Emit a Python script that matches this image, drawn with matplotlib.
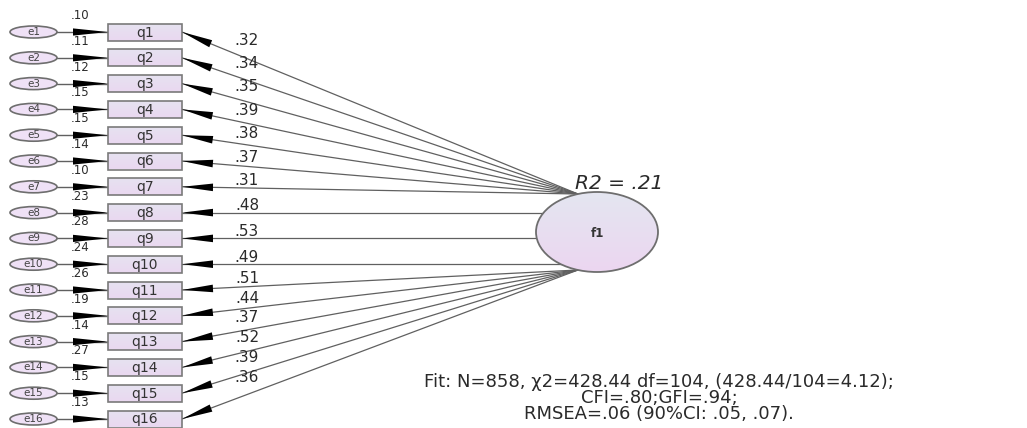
import numpy as np
import matplotlib.pyplot as plt
from matplotlib.patches import Ellipse, Rectangle, Polygon
from matplotlib.colors import LinearSegmentedColormap

plt.rcParams['font.family'] = ['DejaVu Sans']

# data
items = ['q1', 'q2', 'q3', 'q4', 'q5', 'q6', 'q7', 'q8',
         'q9', 'q10', 'q11', 'q12', 'q13', 'q14', 'q15', 'q16']
errors = ['e1', 'e2', 'e3', 'e4', 'e5', 'e6', 'e7', 'e8',
          'e9', 'e10', 'e11', 'e12', 'e13', 'e14', 'e15', 'e16']
loadings = ['.32', '.34', '.35', '.39', '.38', '.37', '.31', '.48',
            '.53', '.49', '.51', '.44', '.37', '.52', '.39', '.36']
item_r2 = ['.10', '.11', '.12', '.15', '.15', '.14', '.10', '.23',
           '.28', '.24', '.26', '.19', '.14', '.27', '.15', '.13']
factor = 'f1'
factor_r2 = 'R2 = .21'
fit_lines = ['Fit: N=858, \u03c72=428.44 df=104, (428.44/104=4.12);',
             'CFI=.80;GFI=.94;',
             'RMSEA=.06 (90%CI: .05, .07).']

# layout (pixels)
row0, row_step = 32, 25.8
box_x0, box_x1, box_h = 108, 182, 17
err_cx, err_w, err_h = 33.5, 47, 12
fcx, fcy, fw, fh = 597, 232, 122, 80

line_col = '#606060'
edge_col = '#7a7a7a'
txt_col = '#2a2a2a'

grad_cmap = LinearSegmentedColormap.from_list('g', ['#e4e6f0', '#ecd6f1'])
box_cmap = LinearSegmentedColormap.from_list('b', ['#e6e2f0', '#ead8f1'])


def head(ax, tip, tail, length, hw):
    tip = np.array(tip, float)
    d = np.array(tail, float) - tip
    d /= np.hypot(*d)
    p = np.array([-d[1], d[0]])
    base = tip + d * length
    ax.add_patch(Polygon([tip, base + p * hw, base - p * hw],
                         closed=True, color='black', lw=0, zorder=5))


fig = plt.figure(figsize=(10.27, 4.28), dpi=100)
ax = fig.add_axes([0, 0, 1, 1])
ax.set_xlim(0, 1027)
ax.set_ylim(428, 0)
ax.axis('off')

grad = np.linspace(0, 1, 64).reshape(-1, 1)

for i, (q, e, ld, r2) in enumerate(zip(items, errors, loadings, item_r2)):
    y = row0 + row_step * i

    # error term
    ax.add_patch(Ellipse((err_cx, y), err_w, err_h, fc='#efe1f6',
                         ec='#6e6e6e', lw=1.2, zorder=3))
    ax.text(err_cx, y, e, ha='center', va='center', fontsize=7.5,
            color='#444444', zorder=4)
    ex = err_cx + err_w / 2
    ax.plot([ex, box_x0], [y, y], color=line_col, lw=1, zorder=2)
    head(ax, (box_x0, y), (ex, y), 35, 3.6)
    ax.text(80, y - 16.5, r2, ha='center', va='center', fontsize=8.5,
            color=txt_col)

    # observed item box with soft gradient
    rect = Rectangle((box_x0, y - box_h / 2), box_x1 - box_x0, box_h,
                     fc='none', ec=edge_col, lw=1.2, zorder=4)
    ax.add_patch(rect)
    im = ax.imshow(grad, cmap=box_cmap, aspect='auto', zorder=3,
                   extent=(box_x0, box_x1, y + box_h / 2, y - box_h / 2))
    im.set_clip_path(rect)
    ax.text((box_x0 + box_x1) / 2, y + 0.5, q, ha='center', va='center',
            fontsize=10, color='#333333', zorder=5)

    # loading path from the factor
    ty = np.clip(y, fcy - 38, fcy + 38)
    tx = fcx - fw / 2 * np.sqrt(1 - ((ty - fcy) / (fh / 2)) ** 2)
    ax.plot([box_x1, tx], [y, ty], color=line_col, lw=0.9, zorder=2)
    head(ax, (box_x1, y), (tx, ty), 31, 3.8)
    slope = (ty - y) / (tx - box_x1)
    lx = 247
    ly = y + slope * (lx - box_x1) - (7 + 28 * abs(slope))
    ax.text(lx, ly, ld, ha='center', va='center', fontsize=11,
            color=txt_col, zorder=6)

# latent factor
circ = Ellipse((fcx, fcy), fw, fh, fc='none', ec='#6e6e6e', lw=1.3, zorder=4)
ax.add_patch(circ)
im = ax.imshow(grad, cmap=grad_cmap, aspect='auto', zorder=3,
               extent=(fcx - fw / 2, fcx + fw / 2, fcy + fh / 2, fcy - fh / 2))
im.set_clip_path(circ)
ax.text(fcx, fcy + 1, factor, ha='center', va='center', fontsize=8.5,
        fontweight='bold', color='#333333', zorder=5)
ax.text(575, 183, factor_r2, ha='left', va='center', fontsize=14.5,
        style='italic', color=txt_col)

for k, s in enumerate(fit_lines):
    ax.text(659, 382 + 16 * k, s, ha='center', va='center', fontsize=13,
            color=txt_col)

fig.savefig('out.png', dpi=100, facecolor='white')
